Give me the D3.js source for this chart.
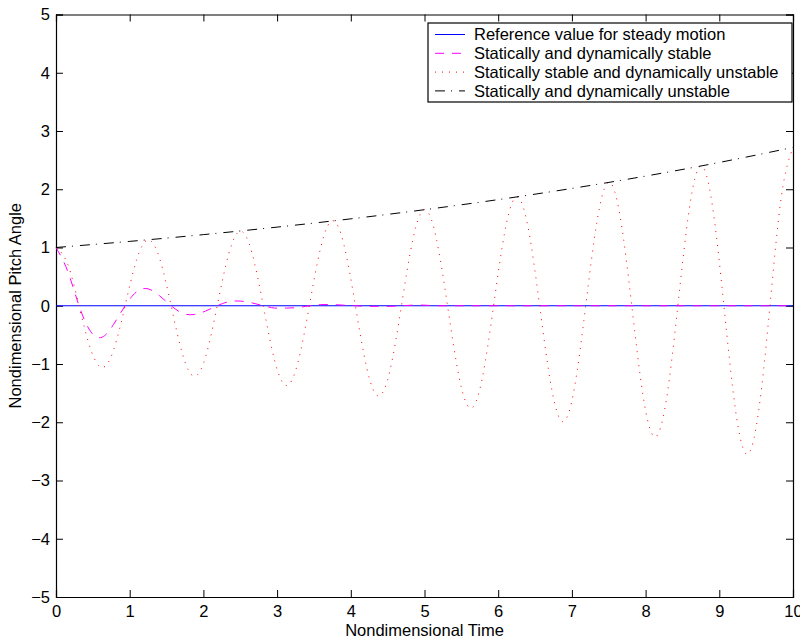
<!DOCTYPE html>
<html>
<head>
<meta charset="utf-8">
<script src="https://cdn.jsdelivr.net/npm/d3@7"></script>
<style>
  body { margin: 0; background: #fff; }
  svg text { font-family: "Liberation Sans", Arial, Helvetica, sans-serif; font-size: 16.5px; fill: #000; }
</style>
</head>
<body>
<svg id="chart" width="800" height="637"></svg>
<script>
// sample step for oscillating curves: 1/8 of a period (period ~1.25)
const step = 0.15625;

const xTicks = [0, 1, 2, 3, 4, 5, 6, 7, 8, 9, 10];
const yTicks = [-5, -4, -3, -2, -1, 0, 1, 2, 3, 4, 5];

const refTime = [0, 10];
const refValues = [0, 0];

const stableValues = [
  1.00, 0.60, 0, -0.44, -0.54, -0.32, 0, 0.24, 0.29, 0.17, 0, -0.13, -0.15, -0.09, 0, 0.07,
  0.08, 0.05, 0, -0.04, -0.04, -0.03, 0, 0.02, 0.02, 0.01, 0, -0.01, -0.01, -0.01, 0, 0.01,
  0.01, 0, 0, 0, 0, 0, 0, 0, 0, 0, 0, 0, 0, 0, 0, 0,
  0, 0, 0, 0, 0, 0, 0, 0, 0, 0, 0, 0, 0, 0, 0, 0, 0
];

const unstableDynValues = [
  1.00, 0.72, 0, -0.74, -1.06, -0.76, 0, 0.79, 1.13, 0.81, 0, -0.84, -1.21, -0.87, 0, 0.89,
  1.28, 0.92, 0, -0.95, -1.37, -0.98, 0, 1.01, 1.46, 1.05, 0, -1.08, -1.55, -1.11, 0, 1.15,
  1.65, 1.18, 0, -1.22, -1.76, -1.26, 0, 1.30, 1.87, 1.34, 0, -1.38, -1.99, -1.43, 0, 1.47,
  2.12, 1.52, 0, -1.57, -2.25, -1.62, 0, 1.67, 2.40, 1.72, 0, -1.78, -2.55, -1.83, 0, 1.89, 2.72
];

const divTime = [0, 1, 2, 3, 4, 5, 6, 7, 8, 9, 10];
const divValues = [1.00, 1.105, 1.221, 1.350, 1.492, 1.649, 1.822, 2.014, 2.226, 2.460, 2.718];

const legendLabels = [
  "Reference value for steady motion",
  "Statically and dynamically stable",
  "Statically stable and dynamically unstable",
  "Statically and dynamically unstable"
];

const oscTime = unstableDynValues.map((d, i) => i * step);

const series = [
  { time: refTime, values: refValues, color: "#0000ff", dash: null, curve: d3.curveLinear },
  { time: oscTime, values: stableValues, color: "#ff00ff", dash: "9,8", curve: d3.curveNatural },
  { time: oscTime, values: unstableDynValues, color: "#ff0000", dash: "1,6", curve: d3.curveNatural },
  { time: divTime, values: divValues, color: "#000000", dash: "10,6,1,7", curve: d3.curveNatural }
];

const margin = { top: 14.5, right: 7, bottom: 40, left: 56 };
const width = 800 - margin.left - margin.right;
const height = 637 - margin.top - margin.bottom;

const svg = d3.select("#chart");
const g = svg.append("g").attr("transform", `translate(${margin.left},${margin.top})`);

const x = d3.scaleLinear().domain([0, 10]).range([0, width]);
const y = d3.scaleLinear().domain([-5, 5]).range([height, 0]);

const fmt = (d) => (d < 0 ? "\u2212" + Math.abs(d) : String(d));

// axes with inward ticks, MATLAB style box
g.append("g")
  .attr("transform", `translate(0,${height})`)
  .call(d3.axisBottom(x).tickValues(xTicks).tickSize(-7).tickPadding(8).tickFormat(fmt));
g.append("g")
  .call(d3.axisTop(x).tickValues(xTicks).tickSize(-7).tickFormat(""));
g.append("g")
  .call(d3.axisLeft(y).tickValues(yTicks).tickSize(-7).tickPadding(6).tickFormat(fmt));
g.append("g")
  .attr("transform", `translate(${width},0)`)
  .call(d3.axisRight(y).tickValues(yTicks).tickSize(-7).tickFormat(""));

g.selectAll(".domain").attr("stroke", "#000").attr("stroke-width", 1.2);
g.selectAll(".tick line").attr("stroke", "#000");
g.selectAll(".tick text").style("font-size", "16.5px").attr("fill", "#000");

const plot = g.append("g");
series.forEach((s) => {
  const line = d3.line()
    .x((d, i) => x(s.time[i]))
    .y((d) => y(d))
    .curve(s.curve);
  plot.append("path")
    .datum(s.values)
    .attr("fill", "none")
    .attr("stroke", s.color)
    .attr("stroke-width", 1)
    .attr("stroke-dasharray", s.dash)
    .attr("d", line);
});

// legend
const legend = g.append("g").attr("transform", `translate(${428 - margin.left},${23 - margin.top})`);
legend.append("rect")
  .attr("width", 364)
  .attr("height", 79)
  .attr("fill", "#fff")
  .attr("stroke", "#000")
  .attr("stroke-width", 1.2);
legendLabels.forEach((label, i) => {
  const row = legend.append("g").attr("transform", `translate(0,${11.5 + i * 18.8})`);
  row.append("line")
    .attr("x1", 7).attr("x2", 37)
    .attr("stroke", series[i].color)
    .attr("stroke-width", 1)
    .attr("stroke-dasharray", series[i].dash);
  row.append("text")
    .attr("x", 46)
    .attr("dy", "0.35em")
    .text(label);
});

// axis titles
svg.append("text")
  .attr("x", margin.left + width / 2)
  .attr("y", 635.5)
  .attr("text-anchor", "middle")
  .text("Nondimensional Time");
svg.append("text")
  .attr("transform", `translate(21,${margin.top + height / 2}) rotate(-90)`)
  .attr("text-anchor", "middle")
  .text("Nondimensional Pitch Angle");
</script>
</body>
</html>
